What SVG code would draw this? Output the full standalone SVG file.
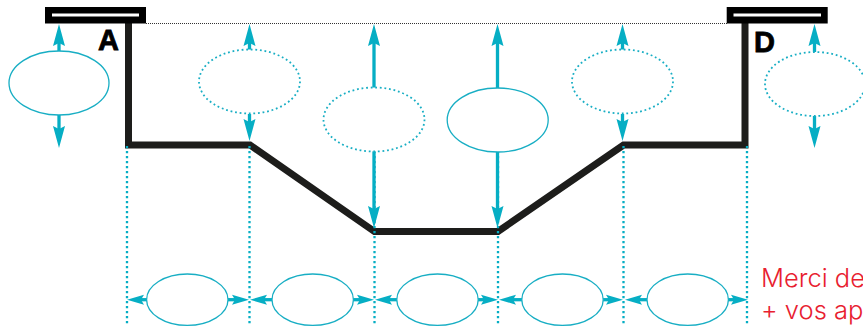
<svg xmlns="http://www.w3.org/2000/svg" width="863" height="327" viewBox="0 0 863 327">
<style>
.e{fill:#fff;stroke:#18aec4;stroke-width:1.3}
.d{stroke-width:1.8;stroke-dasharray:1.8 2.8}
.a{stroke:#06aec4;stroke-width:3.3;fill:none}
.v{marker-end:url(#hv)}
.h{marker-end:url(#hh)}
.g{stroke:#06aec4;stroke-width:2.300;stroke-dasharray:2.200 2.800;fill:none}
.s{fill:none;stroke:#1d1d1b;stroke-width:7;stroke-linejoin:miter}
.b{fill:#000}
.w{fill:#fff}
.l{font-family:"Liberation Sans",Arial,sans-serif;font-weight:700;font-size:29px;fill:#000;stroke:#000;stroke-width:.8}
.r{font-family:Inter,"Liberation Sans",sans-serif;font-weight:300;font-size:25.500px;fill:#e8202f}
</style>
<defs>
<marker id="hv" markerUnits="userSpaceOnUse" markerWidth="24" markerHeight="14" refX="3" refY="6.500" orient="auto"><path d="M0 .5L22 6.500L0 12.500L3 6.500Z" fill="#06aec4"/></marker>
<marker id="hh" markerUnits="userSpaceOnUse" markerWidth="18" markerHeight="12" refX="3" refY="5.500" orient="auto"><path d="M0 .5L17 5.500L0 10.500L3 5.500Z" fill="#06aec4"/></marker>
</defs>
<g id="connectors">
<path d="M146 23.5H727" fill="none" stroke="#333" stroke-width="1" stroke-dasharray="1 1"/>
<path class="s" d="M128.500 23V145H250L374.500 231.500H498L623.500 145H745V23"/>
<path class="g" d="M127 146V325M249.500 146V325M374.500 146V325M498 146V325M623.500 146V325M747 146V325"/>
<path class="a v" d="M59 52V43"/><path class="a v" d="M59 115V129"/>
<path class="a v" d="M249.500 51V43"/><path class="a v" d="M249.500 114V122"/>
<path class="a v" d="M374 88V43"/><path class="a v" d="M374 151V209"/>
<path class="a v" d="M497.500 88V43"/><path class="a v" d="M497.500 151V209"/>
<path class="a v" d="M622.500 51V43"/><path class="a v" d="M622.500 114V122"/>
<path class="a v" d="M814.500 52V43"/><path class="a v" d="M814.500 116V129"/>
<path class="a h" d="M147 299.700H141"/><path class="a h" d="M228 299.700H235"/>
<path class="a h" d="M272 299.700H264"/><path class="a h" d="M353 299.700H360"/>
<path class="a h" d="M397 299.700H389"/><path class="a h" d="M478 299.700H484"/>
<path class="a h" d="M522 299.700H513"/><path class="a h" d="M603 299.700H609"/>
<path class="a h" d="M647 299.700H639"/><path class="a h" d="M728 299.700H734"/>
</g>
<g id="support-a"><rect class="b" x="45" y="7" width="101" height="16.500"/><rect class="w" x="52" y="13.500" width="87" height="3"/><text class="l" x="98" y="50">A</text></g>
<g id="support-d"><rect class="b" x="726.700" y="7" width="101" height="16.500"/><rect class="w" x="733.500" y="13.500" width="87.500" height="3"/><text class="l" x="754" y="52">D</text></g>
<g id="n1"><ellipse class="e" cx="59" cy="83" rx="50" ry="32"/></g>
<g id="n2"><ellipse class="e d" cx="249.500" cy="81.500" rx="50.500" ry="32"/></g>
<g id="n3"><ellipse class="e d" cx="374" cy="119.500" rx="50.500" ry="32"/></g>
<g id="n4"><ellipse class="e" cx="497.700" cy="120" rx="50.500" ry="32"/></g>
<g id="n5"><ellipse class="e d" cx="622.500" cy="81.500" rx="50.500" ry="32"/></g>
<g id="n6"><ellipse class="e d" cx="815" cy="84" rx="50" ry="32"/></g>
<g id="b1"><ellipse class="e" cx="187.300" cy="299.700" rx="40.700" ry="25.700"/></g>
<g id="b2"><ellipse class="e" cx="312.700" cy="299.700" rx="40.700" ry="25.700"/></g>
<g id="b3"><ellipse class="e" cx="437.500" cy="299.700" rx="40.700" ry="25.700"/></g>
<g id="b4"><ellipse class="e" cx="562.500" cy="299.700" rx="40.700" ry="25.700"/></g>
<g id="b5"><ellipse class="e" cx="687.700" cy="299.700" rx="40.700" ry="25.700"/></g>
<g id="note"><text class="r" x="761" y="287">Merci de</text><text class="r" x="761" y="319">+ vos ap</text></g>
</svg>
